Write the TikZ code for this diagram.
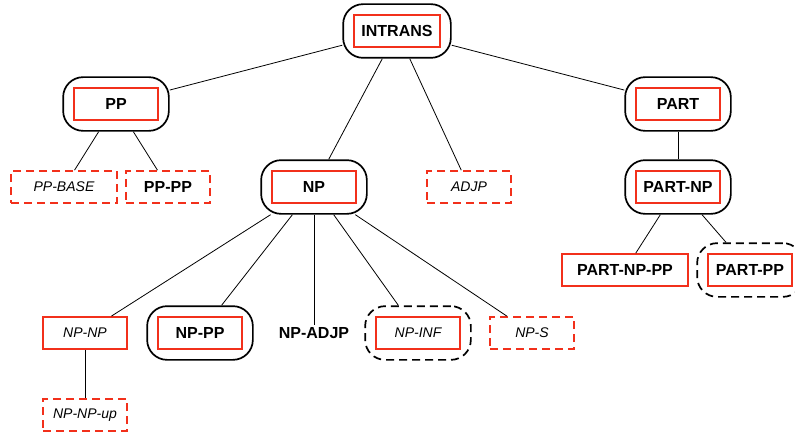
\documentclass[tikz,border=0pt]{standalone}
\usepackage{fontspec}
\setmainfont{Liberation Sans}
\usetikzlibrary{positioning,fit}
\definecolor{mark}{HTML}{F2301B}

\begin{document}
\begin{tikzpicture}[
    x=1pt, y=-1pt,
    cat/.style={draw=mark, line width=1.7pt, minimum width=84pt, minimum height=32pt,
                inner sep=2pt},
    opt/.style={cat, dash pattern=on 8pt off 5pt},
    bf/.style={font=\fontsize{16}{18}\selectfont\bfseries},
    it/.style={font=\fontsize{14}{16}\selectfont\itshape},
    grp/.style={draw=black, line width=1.7pt, rounded corners=20pt, inner sep=10pt},
    dgrp/.style={grp, dash pattern=on 8pt off 5pt},
    edge/.style={draw=black, line width=0.8pt}
]
\useasboundingbox (0,0) rectangle (795,436);
% top level
\node[cat, bf, minimum width=86pt] (intrans-in) at (397,31) {INTRANS};
\node[grp, fit=(intrans-in)] (intrans) {};
\node[cat, bf] (pp-in) at (116,104) {PP};
\node[grp, fit=(pp-in)] (pp) {};
\node[cat, bf] (part-in) at (678,104) {PART};
\node[grp, fit=(part-in)] (part) {};
% second level
\node[opt, it, minimum width=106pt] (ppbase) at (64,187) {PP-BASE};
\node[opt, bf] (pppp) at (168,187) {PP-PP};
\node[cat, bf] (np-in) at (314,187) {NP};
\node[grp, fit=(np-in)] (np) {};
\node[opt, it] (adjp) at (469,187) {ADJP};
\node[cat, bf] (partnp-in) at (678,187) {PART-NP};
\node[grp, fit=(partnp-in)] (partnp) {};
% third level
\node[cat, bf, minimum width=126pt] (partnppp) at (625,270) {PART-NP-PP};
\node[cat, bf] (partpp-in) at (750,270) {PART-PP};
\node[dgrp, fit=(partpp-in)] (partpp) {};
\node[cat, it] (npnp) at (85,333) {NP-NP};
\node[cat, bf] (nppp-in) at (200,333) {NP-PP};
\node[grp, fit=(nppp-in)] (nppp) {};
\node[bf, inner sep=2pt] (npadjp) at (314,333) {NP-ADJP};
\node[cat, it] (npinf-in) at (418,333) {NP-INF};
\node[dgrp, fit=(npinf-in)] (npinf) {};
\node[opt, it] (nps) at (532,333) {NP-S};
\node[opt, it] (npnpup) at (85,415) {NP-NP-up};
% connectors
\foreach \a/\b in {intrans/pp, intrans/np, intrans/adjp, intrans/part,
                   pp/ppbase, pp/pppp, part/partnp, partnp/partnppp, partnp/partpp,
                   np/npnp, np/nppp, np/npadjp, np/npinf, np/nps, npnp/npnpup}
  \draw[edge] (\a) -- (\b);
\end{tikzpicture}
\end{document}
